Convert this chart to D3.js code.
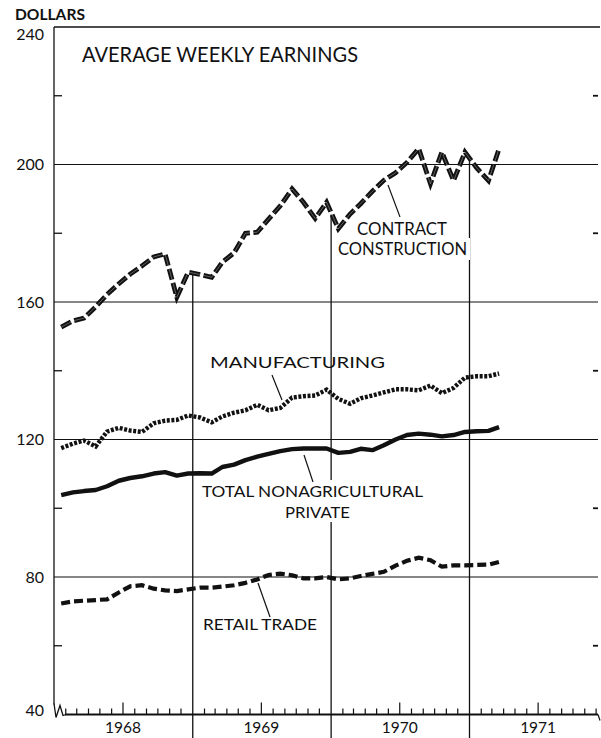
<!DOCTYPE html>
<html>
<head>
<meta charset="utf-8">
<script src="https://cdn.jsdelivr.net/npm/d3@7/dist/d3.min.js"></script>
<style>
  html, body { margin: 0; padding: 0; background: #fff; }
  svg { display: block; font-family: Lato, "Open Sans", sans-serif; }
</style>
</head>
<body>
<svg id="chart" width="601" height="738"></svg>
<script>
// ---- data (monthly, Jan 1968 – Mar 1971), dollars ----
const contractConstruction = [152.7,154.5,155.3,158.6,162.2,165.3,168.1,170.5,173.1,174.0,161.4,168.7,
  168.0,167.2,171.6,174.3,180.0,180.3,184.1,188.0,192.9,189.0,184.3,189.0,
  181.3,185.6,188.6,192.2,195.4,197.6,200.6,204.6,194.4,203.6,195.3,203.6,
  199.0,195.3,204.6];
const manufacturing = [117.5,118.8,119.7,118.0,122.3,123.4,122.6,122.2,124.7,125.5,125.7,127.0,
  126.4,125.0,126.7,127.8,128.5,130.1,128.5,129.2,132.2,132.6,132.8,134.5,
  131.8,130.4,132.0,132.8,133.7,134.6,134.6,134.3,135.7,133.5,135.0,138.0,
  138.4,138.4,139.2];
const totalNonagPrivate = [103.8,104.6,105.0,105.3,106.4,108.0,108.8,109.3,110.1,110.5,109.5,110.1,
  110.2,110.1,112.0,112.7,114.0,115.0,115.8,116.6,117.2,117.4,117.4,117.4,
  116.1,116.4,117.3,116.9,118.3,120.0,121.3,121.7,121.4,120.9,121.3,122.2,
  122.4,122.5,123.6];
const retailTrade = [72.3,72.9,73.1,73.3,73.5,75.5,77.3,77.6,76.6,76.1,75.9,76.4,
  76.9,76.9,77.2,77.6,78.3,79.3,80.6,81.0,80.5,79.6,79.6,80.0,
  79.3,79.6,80.3,80.9,81.5,83.3,84.7,85.6,84.9,83.0,83.4,83.4,
  83.5,83.6,84.4];
const yearLabels = ["1968","1969","1970","1971"];
const yTickValues = [40, 80, 120, 160, 200, 240];
const yMinorValues = [60, 100, 140, 180, 220];
const gridValues = [80, 120, 160, 200];

const months = d3.timeMonth.range(new Date(1968,0,1), new Date(1971,3,1)); // 39 months
const pointDate = m => d3.timeDay.offset(m, 19);

// ---- scales ----
const x = d3.scaleTime().domain([new Date(1968,0,1), new Date(1971,0,1)]).range([54, 469.5]);
const y = d3.scaleLinear().domain([40, 240]).range([714.5, 27]);
const xLeft = 54, xRight = 598;

const svg = d3.select("#chart");
const ink = "#111";

// ---- frame / grid ----
svg.append("line").attr("x1", xLeft).attr("x2", 600).attr("y1", y(240)).attr("y2", y(240))
  .attr("stroke", ink).attr("stroke-width", 1.3);
svg.selectAll(".grid").data(gridValues).enter().append("line")
  .attr("x1", xLeft).attr("x2", xRight).attr("y1", d => y(d)).attr("y2", d => y(d))
  .attr("stroke", ink).attr("stroke-width", 1.1);
// left axis
svg.append("line").attr("x1", xLeft).attr("x2", xLeft).attr("y1", y(240)).attr("y2", y(40) - 10)
  .attr("stroke", ink).attr("stroke-width", 1.3);
// axis break
svg.append("path").attr("d", `M${xLeft},${y(40)-11} L${xLeft+2},${y(40)+3} L${xLeft+6},${y(40)-9} L${xLeft+9},${y(40)+1} L${xLeft+12},${y(40)}`)
  .attr("fill", "none").attr("stroke", ink).attr("stroke-width", 1.3);
// baseline
svg.append("line").attr("x1", xLeft + 11).attr("x2", xRight).attr("y1", y(40)).attr("y2", y(40))
  .attr("stroke", ink).attr("stroke-width", 1.8);
svg.append("line").attr("x1", xRight).attr("x2", xRight + 2).attr("y1", y(40)).attr("y2", y(40) + 6)
  .attr("stroke", ink).attr("stroke-width", 1.2);

// minor y ticks left and right
svg.selectAll(".lt").data(yMinorValues).enter().append("line")
  .attr("x1", xLeft).attr("x2", xLeft + 8).attr("y1", d => y(d)).attr("y2", d => y(d))
  .attr("stroke", ink).attr("stroke-width", 1.3);
svg.selectAll(".rt").data(yMinorValues).enter().append("line")
  .attr("x1", xRight - 5).attr("x2", xRight).attr("y1", d => y(d)).attr("y2", d => y(d))
  .attr("stroke", ink).attr("stroke-width", 1.8);

// y tick labels
svg.selectAll(".yl").data(yTickValues).enter().append("text")
  .attr("x", 44).attr("y", d => y(d) + (d === 240 ? 7 : d === 40 ? -4 : 0))
  .attr("dy", "0.36em").attr("text-anchor", "end")
  .attr("font-size", 16).attr("fill", ink).text(d => d);

// month ticks on baseline
const tickMonths = d3.timeMonth.range(new Date(1968,1,1), new Date(1971,11,5))
  .filter(d => d.getMonth() !== 0);
svg.selectAll(".mt").data(tickMonths).enter().append("line")
  .attr("x1", d => x(d)).attr("x2", d => x(d))
  .attr("y1", y(40)).attr("y2", d => y(40) - (d.getMonth() === 6 ? 12 : 6))
  .attr("stroke", ink).attr("stroke-width", 1.2);

// year labels
svg.selectAll(".yr").data(yearLabels).enter().append("text")
  .attr("x", d => x(new Date(+d, 6, 1))).attr("y", 733)
  .attr("text-anchor", "middle").attr("font-size", 15.5).attr("fill", ink).text(d => d);

// ---- series ----
const mk = vals => vals.map((v, i) => ({date: pointDate(months[i]), v}));
const ccData = mk(contractConstruction);
const line = d3.line().x(d => x(d.date)).y(d => y(d.v));

// year dividers, starting from the contract construction line
const bis = d3.bisector(d => d.date).left;
function interp(data, date) {
  const i = bis(data, date);
  const a = data[i-1], b = data[i];
  const t = (date - a.date) / (b.date - a.date);
  return a.v + t * (b.v - a.v);
}
const dividerYears = [1969, 1970, 1971];
svg.selectAll(".div").data(dividerYears).enter().append("line")
  .attr("x1", d => x(new Date(d,0,1))).attr("x2", d => x(new Date(d,0,1)))
  .attr("y1", d => y(interp(ccData, new Date(d,0,1))) + 2).attr("y2", 738)
  .attr("stroke", ink).attr("stroke-width", 1.3);

// retail trade - dashed
svg.append("path").datum(mk(retailTrade)).attr("d", line)
  .attr("fill", "none").attr("stroke", ink).attr("stroke-width", 4.2)
  .attr("stroke-dasharray", "9,4");
// total nonagricultural private - solid
svg.append("path").datum(mk(totalNonagPrivate)).attr("d", line)
  .attr("fill", "none").attr("stroke", ink).attr("stroke-width", 4.4).attr("stroke-linejoin", "round");
// manufacturing - dotted
svg.append("path").datum(mk(manufacturing)).attr("d", line)
  .attr("fill", "none").attr("stroke", ink).attr("stroke-width", 4.4)
  .attr("stroke-dasharray", "3,1.6");
// contract construction - heavy dashed with faint white core
svg.append("path").datum(ccData).attr("d", line)
  .attr("fill", "none").attr("stroke", ink).attr("stroke-width", 4.8)
  .attr("stroke-dasharray", "11,3.5");
svg.append("path").datum(ccData).attr("d", line)
  .attr("fill", "none").attr("stroke", "#fff").attr("stroke-width", 0.6).attr("stroke-opacity", 0.55)
  .attr("stroke-dasharray", "11,3.5");

// ---- labels ----
function label(txt, xx, yy, size, len, opts = {}) {
  const g = svg.append("g");
  const t = g.append("text").attr("x", xx).attr("y", yy).attr("font-size", size)
    .attr("fill", ink).attr("textLength", len).attr("lengthAdjust", "spacingAndGlyphs")
    .attr("font-weight", opts.bold ? 700 : 400).text(txt);
  if (opts.bg) {
    const b = t.node().getBBox();
    g.insert("rect", "text").attr("x", b.x - 3).attr("y", b.y - 1)
      .attr("width", b.width + 6).attr("height", b.height + 2).attr("fill", "#fff");
  }
  return g;
}
label("DOLLARS", 15, 20, 15.5, 70, {bold: true});
label("AVERAGE WEEKLY EARNINGS", 82, 62, 20.5, 276);
label("CONTRACT", 357, 235, 16.5, 90, {bg: true});
label("CONSTRUCTION", 338, 255, 16.5, 129, {bg: true});
label("MANUFACTURING", 210, 368, 15.5, 175);
label("TOTAL NONAGRICULTURAL", 202, 497, 16, 221, {bg: true});
label("PRIVATE", 285, 518, 16, 65, {bg: true});
label("RETAIL TRADE", 203, 630, 16, 114);

// leader lines
const leaders = [[388,185,400,217],[272,375,282,400],[304,455,313,482],[258,583,270,617]];
svg.selectAll(".ld").data(leaders).enter().append("line")
  .attr("x1", d => d[0]).attr("y1", d => d[1]).attr("x2", d => d[2]).attr("y2", d => d[3])
  .attr("stroke", ink).attr("stroke-width", 1.2);
</script>
</body>
</html>
